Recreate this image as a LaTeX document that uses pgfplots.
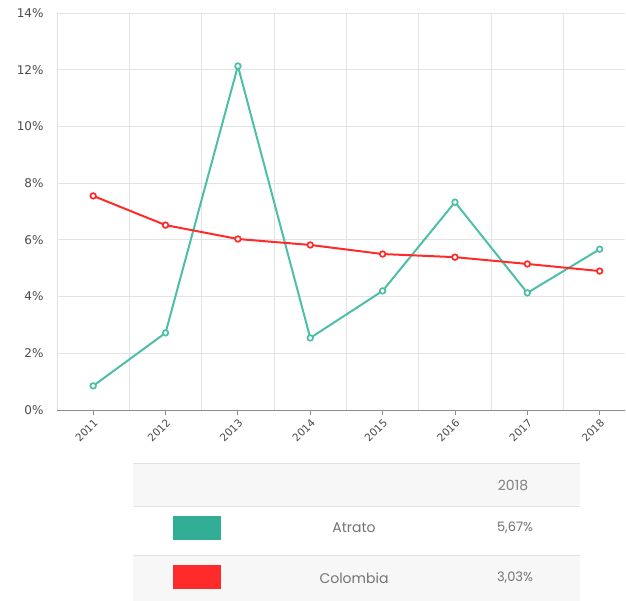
\documentclass[border=0pt]{standalone}
\usepackage{pgfplots}
\pgfplotsset{compat=1.18}
\usepackage{fontspec}
\setmainfont{DejaVu Sans}
\newfontfamily\tabfont{Poppins}
\definecolor{teal}{HTML}{4DBFA8}
\definecolor{tealbox}{HTML}{32AE96}
\definecolor{redl}{HTML}{FF2A2A}
\definecolor{rowbg}{HTML}{F7F7F7}
\definecolor{sep}{HTML}{E2E2E2}
\definecolor{ticktxt}{HTML}{4A4A4A}
\begin{document}
\begin{tikzpicture}
\path (0pt,0pt) rectangle (626pt,-601pt);
\begin{axis}[
  at={(57pt,-410pt)}, anchor=south west,
  scale only axis, width=568pt, height=397pt,
  xmin=2010.5, xmax=2018.35, ymin=0, ymax=14,
  axis lines*=left,
  x axis line style={draw=black!45, line width=1pt},
  y axis line style={draw=black!12, line width=0.8pt},
  xtick={2011,...,2018},
  minor xtick={2011.5,2012.5,...,2017.5},
  ytick={0,2,...,14},
  xminorgrids, ymajorgrids,
  grid style={draw=black!11, line width=0.8pt},
  minor grid style={draw=black!11, line width=0.8pt},
  tick align=outside,
  major tick length=5pt, minor tick length=0pt,
  ytick style={draw=none},
  xtick style={draw=black!45, line width=0.8pt},
  /pgf/number format/assume math mode=true,
  xticklabel style={/pgf/number format/1000 sep=, rotate=45, anchor=north east, font=\fontsize{10.5}{12}\selectfont, text=ticktxt, inner sep=2pt},
  yticklabel={\pgfmathprintnumber{\tick}\%},
  yticklabel style={font=\fontsize{12}{14}\selectfont, text=ticktxt, xshift=-5pt},
  clip=false,
]
\addplot[teal, line width=2pt, mark=*, mark size=2.8pt, mark options={fill=white, draw=teal, line width=1.7pt}]
  coordinates {(2011,0.85) (2012,2.72) (2013,12.13) (2014,2.54) (2015,4.20) (2016,7.33) (2017,4.13) (2018,5.67)};
\addplot[redl, line width=2pt, mark=*, mark size=2.8pt, mark options={fill=white, draw=redl, line width=1.7pt}]
  coordinates {(2011,7.55) (2012,6.52) (2013,6.03) (2014,5.82) (2015,5.50) (2016,5.39) (2017,5.15) (2018,4.90)};
\end{axis}
% legend table
\fill[rowbg] (133pt,-463pt) rectangle (580pt,-506pt);
\fill[white] (133pt,-506pt) rectangle (580pt,-555pt);
\fill[rowbg] (133pt,-555pt) rectangle (580pt,-601pt);
\draw[sep, line width=1pt] (133pt,-463pt) -- (580pt,-463pt);
\draw[sep, line width=1pt] (133pt,-506pt) -- (580pt,-506pt);
\draw[sep, line width=1pt] (133pt,-555pt) -- (580pt,-555pt);
\fill[tealbox] (173pt,-516pt) rectangle (221pt,-540pt);
\fill[redl] (173pt,-565pt) rectangle (221pt,-589pt);
\node[text=black!50, font=\tabfont\fontsize{14}{16}\selectfont] at (513pt,-485pt) {2018};
\node[text=black!55, font=\tabfont\fontsize{14}{16}\selectfont] at (354pt,-528pt) {Atrato};
\node[text=black!55, font=\tabfont\fontsize{13}{16}\selectfont] at (515pt,-528pt) {5,67\%};
\node[text=black!55, font=\tabfont\fontsize{14}{16}\selectfont] at (354pt,-578pt) {Colombia};
\node[text=black!55, font=\tabfont\fontsize{13}{16}\selectfont] at (515pt,-578pt) {3,03\%};
\end{tikzpicture}
\end{document}
